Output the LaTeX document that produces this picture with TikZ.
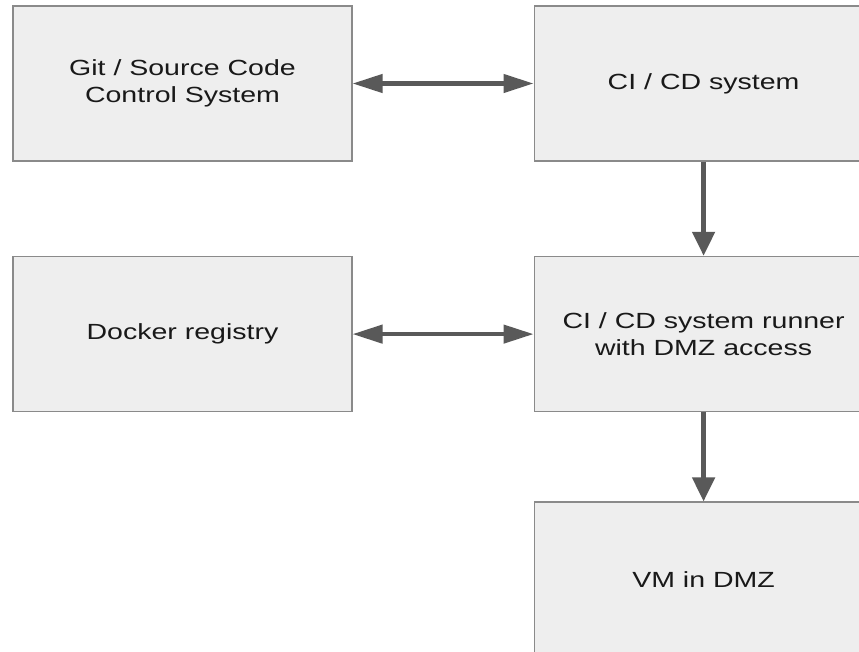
\documentclass[tikz,border=0pt]{standalone}
\usepackage{fontspec}
\setmainfont{Liberation Sans}
\newfontfamily\boxfont{Liberation Sans}[FakeStretch=1.3]
\usepackage{tikz}
\usetikzlibrary{arrows.meta, positioning}

\definecolor{boxfill}{HTML}{EEEEEE}
\definecolor{boxline}{HTML}{8A8A8A}
\definecolor{arrowgray}{HTML}{595959}

\tikzset{
    sysbox/.style={draw=boxline, fill=boxfill, line width=1.1pt, align=center,
        minimum width=8.46cm, minimum height=3.875cm, inner sep=0pt,
        font=\boxfont\fontsize{15.6}{19.2}\selectfont, text=black!90},
    hlink/.style={arrowgray, line width=3pt,
        {Triangle[length=0.75cm, width=0.45cm]}-{Triangle[length=0.75cm, width=0.45cm]}},
    vlink/.style={arrowgray, line width=3.4pt,
        -{Triangle[length=0.6cm, width=0.55cm]}}
}

\begin{document}
\begin{tikzpicture}[x=0.025cm, y=-0.025cm]
    % page frame, the right column runs off the edge
    \path[use as bounding box] (0,0) rectangle (859,651);
    \clip (0,0) rectangle (859,651);
    \fill[white] (0,0) rectangle (859,651);

    % boxes
    \node[sysbox] (git) at (182.5,83.5) {Git / Source Code\\Control System};
    \node[sysbox, right=4.525cm of git] (cicd) {CI / CD system};
    \node[sysbox, below=2.35cm of git] (docker) {Docker registry};
    \node[sysbox, below=2.35cm of cicd] (runner) {CI / CD system runner\\with DMZ access};
    \node[sysbox, below=2.225cm of runner] (vm) {VM in DMZ};

    % links
    \draw[hlink] (git) -- (cicd);
    \draw[hlink] (docker) -- (runner);
    \draw[vlink] (cicd) -- (runner);
    \draw[vlink] (runner) -- (vm);
\end{tikzpicture}
\end{document}
